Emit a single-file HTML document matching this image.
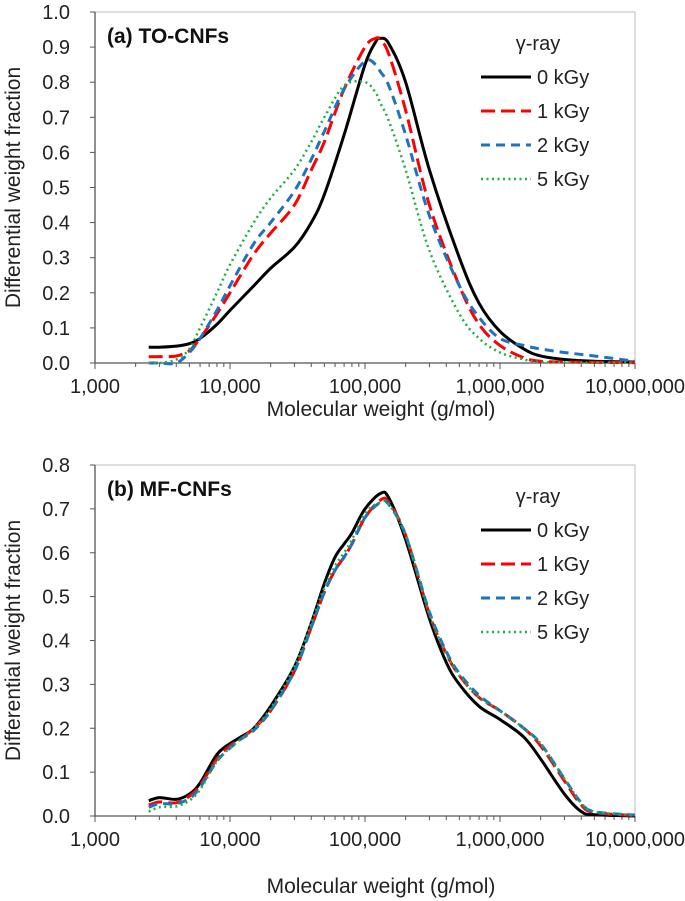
<!DOCTYPE html>
<html><head><meta charset="utf-8"><style>
html,body{margin:0;padding:0;background:#fff;}
svg{display:block;font-family:"Liberation Sans",Arial,sans-serif;}
</style></head><body>
<svg id="c" width="685" height="901" viewBox="0 0 685 901"></svg>
<script>
const seriesNames=["0 kGy","1 kGy","2 kGy","5 kGy"];
const xA=[2500,3000,4000,5000,6000,8000,10000,15000,20000,30000,40000,50000,70000,100000,120000,130000,150000,200000,300000,500000,700000,1e6,1.5e6,2e6,3e6,5e6,1e7];
const a0=[0.045,0.045,0.048,0.055,0.07,0.11,0.15,0.22,0.27,0.33,0.4,0.48,0.65,0.85,0.915,0.925,0.91,0.8,0.55,0.3,0.17,0.09,0.04,0.02,0.01,0.005,0.003];
const a1=[0.018,0.018,0.02,0.035,0.07,0.14,0.2,0.31,0.37,0.45,0.55,0.63,0.78,0.9,0.925,0.92,0.88,0.72,0.45,0.22,0.11,0.05,0.015,0.005,0.003,0.002,0.001];
const a2=[0,0,0,0.03,0.07,0.15,0.22,0.34,0.4,0.49,0.58,0.66,0.78,0.86,0.85,0.83,0.79,0.65,0.42,0.22,0.13,0.07,0.05,0.04,0.03,0.02,0.005];
const a5=[0,0,0.01,0.04,0.1,0.2,0.28,0.4,0.47,0.55,0.63,0.7,0.79,0.8,0.77,0.74,0.69,0.55,0.32,0.14,0.07,0.03,0.01,0.003,0.002,0.001,0.001];
const xB=[2500,3000,4000,5000,6000,8000,10000,12000,15000,20000,30000,40000,50000,60000,70000,80000,100000,130000,150000,200000,300000,400000,500000,700000,1e6,1.5e6,2e6,3e6,4e6,5e6,1e7];
const b0=[0.035,0.042,0.038,0.05,0.075,0.14,0.165,0.18,0.2,0.25,0.34,0.44,0.53,0.59,0.62,0.645,0.7,0.735,0.725,0.63,0.45,0.35,0.3,0.25,0.22,0.18,0.13,0.05,0.01,0.003,0];
const b1=[0.025,0.032,0.03,0.045,0.07,0.13,0.16,0.175,0.2,0.24,0.33,0.43,0.51,0.56,0.59,0.62,0.68,0.72,0.715,0.64,0.46,0.37,0.32,0.27,0.24,0.2,0.16,0.08,0.025,0.008,0.001];
const b2=[0.02,0.028,0.028,0.04,0.065,0.125,0.155,0.175,0.195,0.24,0.33,0.43,0.51,0.56,0.59,0.62,0.68,0.715,0.71,0.64,0.465,0.375,0.325,0.275,0.24,0.2,0.165,0.085,0.03,0.01,0.002];
const b5=[0.01,0.02,0.022,0.035,0.06,0.125,0.155,0.175,0.2,0.245,0.34,0.44,0.52,0.57,0.6,0.63,0.69,0.715,0.71,0.64,0.46,0.37,0.32,0.27,0.24,0.2,0.165,0.085,0.03,0.01,0.002];
const xTickLabels=["1,000","10,000","100,000","1,000,000","10,000,000"];
const yTicksA=["0.0","0.1","0.2","0.3","0.4","0.5","0.6","0.7","0.8","0.9","1.0"];
const yTicksB=["0.0","0.1","0.2","0.3","0.4","0.5","0.6","0.7","0.8"];

const NS="http://www.w3.org/2000/svg";
const svg=document.getElementById('c');
function el(t,at,p){const e=document.createElementNS(NS,t);for(const k in at)e.setAttribute(k,at[k]);(p||svg).appendChild(e);return e;}
const styles=[{stroke:"#000",w:3,d:""},{stroke:"#ff0000",w:3,d:"14,6"},{stroke:"#1f72be",w:3,d:"9,6"},{stroke:"#1fae4a",w:2.5,d:"2,3.5"}];

function panel(cfg){
  const L=95,R=635,T=cfg.T,B=cfg.B,ymax=cfg.ymax;
  const g=el('g',{});
  
  
  const X=v=>L+(Math.log10(v)-3)/4*(R-L);
  const Y=v=>B-v/ymax*(B-T);
  el('rect',{x:L,y:T,width:R-L,height:B-T,fill:"none",stroke:"#bdbdbd","stroke-width":1},g);
  const ax=el('path',{d:`M${L} ${T}V${B}H${R}`,stroke:"#555",fill:"none","stroke-width":1.3},g);
  
  
  cfg.yt.forEach((lab,i)=>{
    const v=parseFloat(lab);const y=Y(v);
    el('line',{x1:L-5,x2:L,y1:y,y2:y,stroke:"#555"},g);
    const t=el('text',{x:L-25,y:y+7,"text-anchor":"end","font-size":20,fill:"#222"},g);
    t.textContent=lab;
    
    
  });
  for(let d=0;d<4;d++){for(let m=1;m<10;m++){const v=Math.pow(10,3+d)*m;const x=X(v);
    el('line',{x1:x,x2:x,y1:B,y2:B+(m==1?6:4),stroke:"#555"},g);}}
  el('line',{x1:R,x2:R,y1:B,y2:B+6,stroke:"#555"},g);
  xTickLabels.forEach((lab,i)=>{
    const t=el('text',{x:L+i*(R-L)/4,y:B+30,"text-anchor":"middle","font-size":20,fill:"#222"},g);
    t.textContent=lab;
    
    
  });
  const xt=el('text',{x:(L+R)/2+16,y:cfg.xtY,"text-anchor":"middle","font-size":21,fill:"#222"},g);
  xt.textContent="Molecular weight (g/mol)";
  
  
  const yt=el('text',{x:0,y:0,"text-anchor":"middle","font-size":21,fill:"#222",transform:`translate(20,${(T+B)/2}) rotate(-90)`},g);
  yt.textContent="Differential weight fraction";
  
  
  const pt=el('text',{x:107,y:T+31,"font-size":21,"font-weight":"bold",fill:"#111"},g);
  pt.textContent=cfg.title;
  
  
  cfg.series.forEach((ys,si)=>{
    const pts=cfg.xs.map((x,i)=>[X(x),Y(ys[i])]);
    let d=`M${pts[0][0]} ${pts[0][1]}`;
    for(let i=0;i<pts.length-1;i++){
      const p0=pts[Math.max(0,i-1)],p1=pts[i],p2=pts[i+1],p3=pts[Math.min(pts.length-1,i+2)];
      const c1=[p1[0]+(p2[0]-p0[0])/6,p1[1]+(p2[1]-p0[1])/6];
      const c2=[p2[0]-(p3[0]-p1[0])/6,p2[1]-(p3[1]-p1[1])/6];
      d+=`C${c1[0]} ${c1[1]} ${c2[0]} ${c2[1]} ${p2[0]} ${p2[1]}`;
    }
    const s=styles[si];
    const p=el('path',{d:d,fill:"none",stroke:s.stroke,"stroke-width":s.w,"stroke-dasharray":s.d,"stroke-linejoin":"round"},g);
    
    
  });
  const lg=el('g',{},g);
  
  
  const ltitle=el('text',{x:538,y:T+38,"text-anchor":"middle","font-size":20,fill:"#222"},lg);
  ltitle.textContent="γ-ray";
  
  
  seriesNames.forEach((n,i)=>{
    const y=T+cfg.legY0+i*cfg.legDy;const s=styles[i];
    el('line',{x1:481,x2:531,y1:y,y2:y,stroke:s.stroke,"stroke-width":s.w,"stroke-dasharray":s.d},lg);
    const t=el('text',{x:537,y:y+7,"font-size":20,fill:"#222"},lg);
    t.textContent=n;
    
    
  });
}
panel({name:'chart-a',T:12,B:363,ymax:1.0,yt:yTicksA,xs:xA,series:[a0,a1,a2,a5],title:"(a) TO-CNFs",xtY:416,legY0:65,legDy:34});
panel({name:'chart-b',T:465,B:816,ymax:0.8,yt:yTicksB,xs:xB,series:[b0,b1,b2,b5],title:"(b) MF-CNFs",xtY:893,legY0:65,legDy:34});
</script>
</body></html>
